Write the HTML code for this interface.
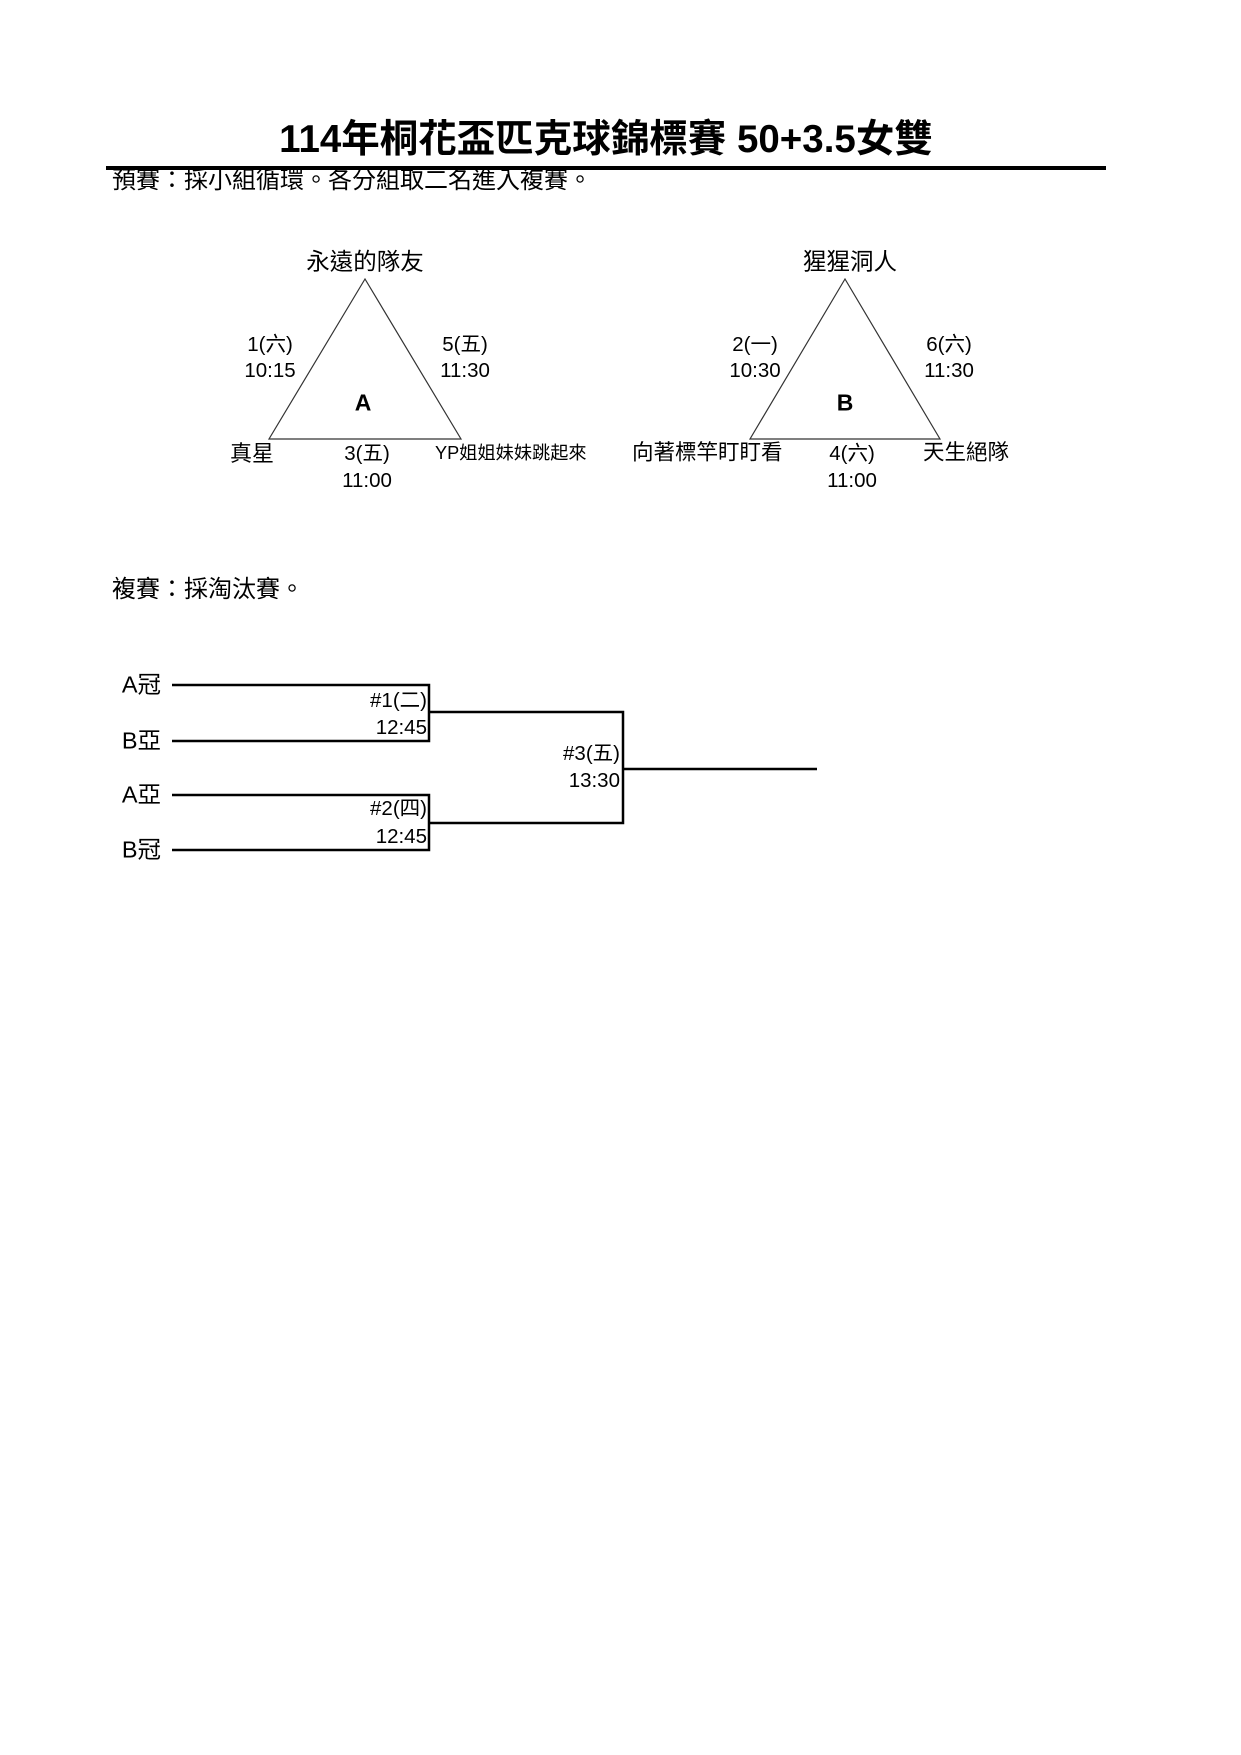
<!DOCTYPE html>
<html><head><meta charset="utf-8"><style>
body{margin:0;background:#fff;}
#p{position:relative;width:1241px;height:1755px;overflow:hidden;font-family:"Liberation Sans","Noto Sans CJK TC",sans-serif;color:#000;}
.t{position:absolute;white-space:nowrap;line-height:1;}
.c{transform:translate(-50%,-50%);}
.l{transform:translateY(-50%);}
.r{transform:translate(-100%,-50%);}
</style></head><body><div id="p">
<svg width="1241" height="1755" style="position:absolute;left:0;top:0">
<line x1="106" y1="168" x2="1106" y2="168" stroke="#000" stroke-width="4"/>
<polygon points="365,279 269,439 461,439" fill="none" stroke="#333" stroke-width="1.2"/>
<polygon points="845,279 750,439 940,439" fill="none" stroke="#333" stroke-width="1.2"/>
<g stroke="#000" stroke-width="2.5" fill="none">
<polyline points="172,685 429,685 429,741 172,741"/>
<polyline points="172,795 429,795 429,850 172,850"/>
<polyline points="429,712 623,712 623,823 429,823"/>
<line x1="623" y1="769" x2="817" y2="769"/>
</g>
</svg>
<div class="t c" style="left:606px;top:140px;font-size:38.5px;font-weight:bold">114年桐花盃匹克球錦標賽 50+3.5女雙</div>
<div class="t l" style="left:112px;top:181px;font-size:24px">預賽：採小組循環。各分組取二名進入複賽。</div>

<div class="t c" style="left:365px;top:262px;font-size:23.5px">永遠的隊友</div>
<div class="t c" style="left:270px;top:345px;font-size:20.5px">1(六)</div>
<div class="t c" style="left:270px;top:371px;font-size:20.5px">10:15</div>
<div class="t c" style="left:465px;top:345px;font-size:20.5px">5(五)</div>
<div class="t c" style="left:465px;top:371px;font-size:20.5px">11:30</div>
<div class="t c" style="left:363px;top:403px;font-size:23px;font-weight:bold">A</div>
<div class="t c" style="left:252px;top:454px;font-size:22px">真星</div>
<div class="t c" style="left:367px;top:454px;font-size:20.5px">3(五)</div>
<div class="t c" style="left:367px;top:481px;font-size:20.5px">11:00</div>
<div class="t l" style="left:435px;top:453px;font-size:18.2px">YP姐姐妹妹跳起來</div>

<div class="t c" style="left:850px;top:262px;font-size:23.5px">猩猩洞人</div>
<div class="t c" style="left:755px;top:345px;font-size:20.5px">2(一)</div>
<div class="t c" style="left:755px;top:371px;font-size:20.5px">10:30</div>
<div class="t c" style="left:949px;top:345px;font-size:20.5px">6(六)</div>
<div class="t c" style="left:949px;top:371px;font-size:20.5px">11:30</div>
<div class="t c" style="left:845px;top:403px;font-size:23px;font-weight:bold">B</div>
<div class="t l" style="left:632px;top:453px;font-size:21.5px">向著標竿盯盯看</div>
<div class="t c" style="left:852px;top:454px;font-size:20.5px">4(六)</div>
<div class="t c" style="left:852px;top:481px;font-size:20.5px">11:00</div>
<div class="t l" style="left:923px;top:453px;font-size:21.5px">天生絕隊</div>

<div class="t l" style="left:112px;top:590px;font-size:24px">複賽：採淘汰賽。</div>
<div class="t r" style="left:161px;top:685px;font-size:23.5px">A冠</div>
<div class="t r" style="left:161px;top:741px;font-size:23.5px">B亞</div>
<div class="t r" style="left:161px;top:795px;font-size:23.5px">A亞</div>
<div class="t r" style="left:161px;top:850px;font-size:23.5px">B冠</div>
<div class="t r" style="left:427px;top:701px;font-size:20.5px">#1(二)</div>
<div class="t r" style="left:427px;top:728px;font-size:20.5px">12:45</div>
<div class="t r" style="left:427px;top:809px;font-size:20.5px">#2(四)</div>
<div class="t r" style="left:427px;top:837px;font-size:20.5px">12:45</div>
<div class="t r" style="left:620px;top:754px;font-size:20.5px">#3(五)</div>
<div class="t r" style="left:620px;top:781px;font-size:20.5px">13:30</div>
</div></body></html>
